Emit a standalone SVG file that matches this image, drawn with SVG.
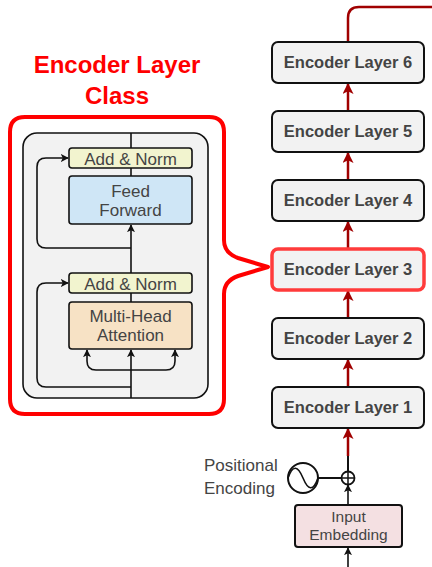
<svg xmlns="http://www.w3.org/2000/svg" width="432" height="567" viewBox="0 0 432 567">
<defs>
<marker id="ar" viewBox="0 0 10 10" refX="9" refY="5" markerWidth="4.4" markerHeight="4.4" orient="auto" markerUnits="strokeWidth">
<path d="M0,0 L10,5 L0,10 L2.5,5 Z" fill="#a00000"/>
</marker>
<marker id="ab" viewBox="0 0 10 10" refX="9" refY="5" markerWidth="5" markerHeight="5" orient="auto" markerUnits="strokeWidth">
<path d="M0,0 L10,5 L0,10 L2.5,5 Z" fill="#111"/>
</marker>
<style>
.enc{fill:#f2f2f2;stroke:#111;stroke-width:2}
.et{font-family:"Liberation Sans",Arial,sans-serif;font-weight:bold;font-size:16.5px;fill:#444;text-anchor:middle}
.st{font-family:"Liberation Sans",Arial,sans-serif;font-size:17px;fill:#444;text-anchor:middle}
.lt{font-family:"Liberation Sans",Arial,sans-serif;font-size:17px;fill:#444;text-anchor:start}
.red{stroke:#a00000;stroke-width:2.5;fill:none}
.blk{stroke:#111;stroke-width:1.6;fill:none}
</style>
</defs>
<rect width="432" height="567" fill="#fff"/>

<g id="title">
<text x="117" y="73" font-family="Liberation Sans,Arial,sans-serif" font-weight="bold" font-size="24" fill="#ff0000" text-anchor="middle">Encoder Layer</text>
<text x="117" y="104" font-family="Liberation Sans,Arial,sans-serif" font-weight="bold" font-size="24" fill="#ff0000" text-anchor="middle">Class</text>
</g>

<g id="bracket">
<path d="M25,117 H209 Q224,117 224,132 V240 Q224,253 238,258 L268,267 L238,276 Q224,281 224,294 V399 Q224,414 209,414 H25 Q10,414 10,399 V132 Q10,117 25,117 Z" fill="none" stroke="#ff0000" stroke-width="4" stroke-linejoin="round"/>
</g>

<g id="layer-block">
<rect x="23" y="133" width="185" height="265" rx="14" fill="#f2f2f2" stroke="#111" stroke-width="1.6"/>
</g>

<g id="inner-connectors">
<line x1="131" y1="133" x2="131" y2="148" class="blk"/>
<line x1="131" y1="168" x2="131" y2="176" class="blk"/>
<line x1="131" y1="293" x2="131" y2="302" class="blk"/>
<line x1="131" y1="273" x2="131" y2="225" class="blk" marker-end="url(#ab)"/>
<line x1="131" y1="398" x2="131" y2="350" class="blk" marker-end="url(#ab)"/>
<path d="M131,248 H46 Q37,248 37,239 V167 Q37,158 46,158 H68" class="blk" marker-end="url(#ab)"/>
<path d="M131,387 H46 Q37,387 37,378 V292 Q37,283 46,283 H68" class="blk" marker-end="url(#ab)"/>
<path d="M131,370 H96 Q87,370 87,361 V350" class="blk" marker-end="url(#ab)"/>
<path d="M131,370 H166 Q175,370 175,361 V350" class="blk" marker-end="url(#ab)"/>
</g>

<g id="add-norm-2">
<rect x="69" y="148" width="123" height="20" rx="3" fill="#f2f4cf" stroke="#111" stroke-width="1.6"/>
<text x="130.5" y="164.5" class="st" font-size="18">Add &amp; Norm</text>
</g>
<g id="feed-forward">
<rect x="69" y="176" width="123" height="48" rx="3" fill="#cfe6f6" stroke="#111" stroke-width="1.6"/>
<text x="130.5" y="197" class="st">Feed</text>
<text x="130.5" y="216" class="st">Forward</text>
</g>
<g id="add-norm-1">
<rect x="69" y="273" width="123" height="20" rx="3" fill="#f2f4cf" stroke="#111" stroke-width="1.6"/>
<text x="130.5" y="289.5" class="st" font-size="18">Add &amp; Norm</text>
</g>
<g id="multi-head-attention">
<rect x="69" y="302" width="123" height="47" rx="3" fill="#f7e2c5" stroke="#111" stroke-width="1.6"/>
<text x="130.5" y="322" class="st">Multi-Head</text>
<text x="130.5" y="341" class="st">Attention</text>
</g>

<g id="connectors">
<path d="M348,42 V18 Q348,7 359,7 H432" class="red"/>
<line x1="348" y1="111" x2="348" y2="84" class="red" marker-end="url(#ar)"/>
<line x1="348" y1="180" x2="348" y2="153" class="red" marker-end="url(#ar)"/>
<line x1="348" y1="249" x2="348" y2="222" class="red" marker-end="url(#ar)"/>
<line x1="348" y1="318" x2="348" y2="291" class="red" marker-end="url(#ar)"/>
<line x1="348" y1="387" x2="348" y2="360" class="red" marker-end="url(#ar)"/>
<line x1="348" y1="472" x2="348" y2="455" stroke="#111" stroke-width="2"/>
<line x1="348" y1="456" x2="348" y2="429" class="red" marker-end="url(#ar)"/>
<line x1="318" y1="478" x2="342" y2="478" stroke="#111" stroke-width="2"/>
<line x1="348" y1="505" x2="348" y2="485" class="blk" marker-end="url(#ab)"/>
<line x1="348" y1="567" x2="348" y2="548" class="blk" marker-end="url(#ab)"/>
</g>

<g id="encoder-layer-6"><rect x="272" y="42" width="152" height="41" rx="6" class="enc"/><text x="348" y="68" class="et">Encoder Layer 6</text></g>
<g id="encoder-layer-5"><rect x="272" y="111" width="152" height="41" rx="6" class="enc"/><text x="348" y="137" class="et">Encoder Layer 5</text></g>
<g id="encoder-layer-4"><rect x="272" y="180" width="152" height="41" rx="6" class="enc"/><text x="348" y="206" class="et">Encoder Layer 4</text></g>
<g id="encoder-layer-3"><rect x="272" y="249" width="152" height="41" rx="6" fill="#f2f2f2" stroke="#ff3b3b" stroke-width="3.5"/><text x="348" y="275" class="et">Encoder Layer 3</text></g>
<g id="encoder-layer-2"><rect x="272" y="318" width="152" height="41" rx="6" class="enc"/><text x="348" y="344" class="et">Encoder Layer 2</text></g>
<g id="encoder-layer-1"><rect x="272" y="387" width="152" height="41" rx="6" class="enc"/><text x="348" y="413" class="et">Encoder Layer 1</text></g>

<g id="positional-encoding">
<circle cx="303" cy="478" r="15" fill="#fff" stroke="#111" stroke-width="2"/>
<path d="M288,478 C293,464 298,466 303,478 C308,490 313,492 318,478" fill="none" stroke="#111" stroke-width="1.6"/>
<text x="204" y="471" class="lt">Positional</text>
<text x="204" y="494" class="lt">Encoding</text>
</g>
<g id="add">
<circle cx="348" cy="478" r="6.5" fill="#fff" stroke="#111" stroke-width="1.8"/>
<path d="M341.5,478 H354.5 M348,471.5 V484.5" stroke="#111" stroke-width="1.5"/>
</g>
<g id="input-embedding">
<rect x="295" y="505" width="107" height="42" rx="3" fill="#f4e0e2" stroke="#111" stroke-width="2"/>
<text x="348.5" y="522" class="st" style="font-size:15.5px">Input</text>
<text x="348.5" y="540" class="st" style="font-size:15.5px">Embedding</text>
</g>
</svg>
